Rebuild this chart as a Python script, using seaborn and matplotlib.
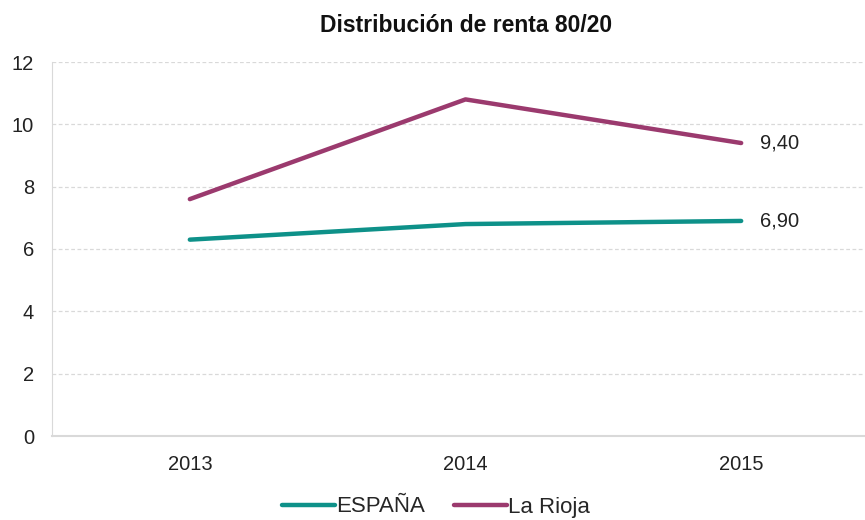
import pandas as pd
import matplotlib.pyplot as plt
import seaborn as sns

# Data
years = ['2013', '2014', '2015']
espana = [6.3, 6.8, 6.9]
la_rioja = [7.6, 10.8, 9.4]
series_names = ['ESPAÑA', 'La Rioja']
colors = ['#0e9189', '#9b3a6e']

df = pd.DataFrame({
    'year': years * 2,
    'value': espana + la_rioja,
    'serie': [series_names[0]] * 3 + [series_names[1]] * 3,
})

sns.set_style('white')
plt.rcParams['font.family'] = ['Liberation Sans', 'DejaVu Sans']

fig = plt.figure(figsize=(8.65, 5.2), dpi=100)
ax = fig.add_axes([52 / 865, 84 / 520, 827 / 865, 374 / 520])

sns.lineplot(data=df, x='year', y='value', hue='serie', palette=colors,
             linewidth=3.2, ax=ax, legend=False, sort=False)

ax.set_xlim(-0.5, 2.5)
ax.set_ylim(0, 12)
ax.set_yticks(range(0, 13, 2))
ax.set_xticks(range(len(years)))
ax.set_xticklabels(years)
ax.set_xticks([-0.5, 0.5, 1.5], minor=True)
ax.tick_params(axis='x', which='major', length=0, pad=14, labelsize=14.5, colors='#222222')
ax.tick_params(axis='x', which='minor', length=7, width=1, color='#d9d9d9')
ax.tick_params(axis='y', length=8, width=1, pad=5, labelsize=14.5, colors='#222222')
ax.tick_params(axis='y', color='#d9d9d9')
ax.set_xlabel('')
ax.set_ylabel('')

ax.grid(axis='y', color='#d9d9d9', linestyle=(0, (3, 2)), linewidth=0.9)
ax.set_axisbelow(True)
for side in ['top', 'right']:
    ax.spines[side].set_visible(False)
ax.spines['left'].set_color('#d9d9d9')
ax.spines['bottom'].set_color('#d9d9d9')
ax.spines['bottom'].set_linewidth(1.5)

# end labels
ax.text(2.07, la_rioja[-1], f'{la_rioja[-1]:.2f}'.replace('.', ','), va='center', ha='left',
        fontsize=14.5, color='#222222')
ax.text(2.07, espana[-1], f'{espana[-1]:.2f}'.replace('.', ','), va='center', ha='left',
        fontsize=14.5, color='#222222')

fig.text(466 / 865, 1 - 25 / 520, 'Distribución de renta 80/20', ha='center', va='center',
         fontsize=16.5, fontweight='bold', color='#111111')

handles = [plt.Line2D([], [], color=c, linewidth=3.2) for c in colors]
fig.legend(handles, series_names, loc='center', bbox_to_anchor=(436 / 865, 1 - 507 / 520),
           ncol=2, frameon=False, fontsize=16, handlelength=2.4, handletextpad=0.05,
           columnspacing=1.3)

fig.savefig('out.png', dpi=100)
